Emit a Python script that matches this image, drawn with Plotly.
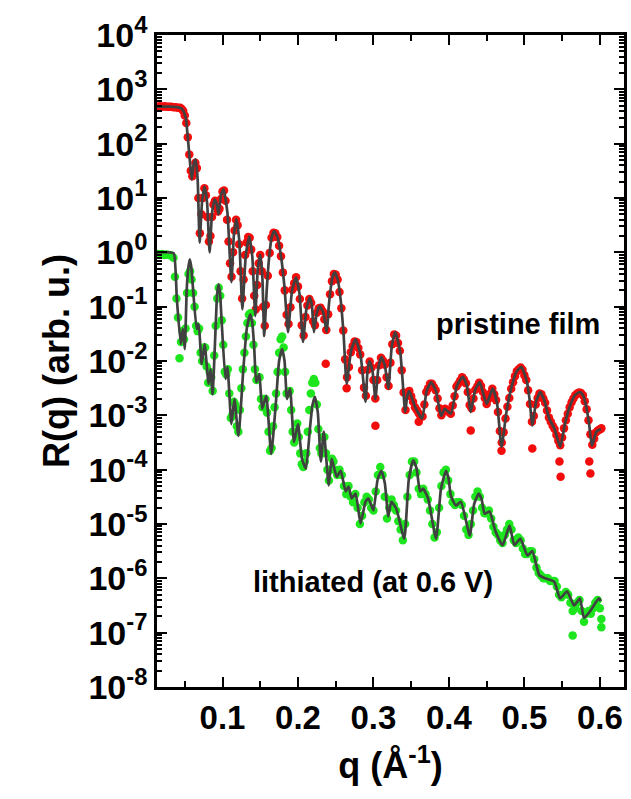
import plotly.graph_objects as go

# ---------------- data ----------------
# pristine film: fit curve (q in 1/A, log10 R)
pristine_fit_q = [0.0132, 0.0303, 0.0434, 0.0474, 0.0513, 0.0539, 0.0566, 0.0592, 0.0618, 0.0645,
                  0.0671, 0.0697, 0.0730, 0.0763, 0.0796, 0.0829, 0.0862, 0.0895, 0.0921, 0.0947,
                  0.0980, 0.1013, 0.1065, 0.1118, 0.1151, 0.1184, 0.1223, 0.1263, 0.1309, 0.1355,
                  0.1395, 0.1434, 0.1467, 0.1500, 0.1527, 0.1553, 0.1586, 0.1618, 0.1651, 0.1684,
                  0.1730, 0.1776, 0.1822, 0.1868, 0.1921, 0.1974, 0.2020, 0.2066, 0.2112, 0.2158,
                  0.2185, 0.2211, 0.2250, 0.2289, 0.2335, 0.2382, 0.2408, 0.2435, 0.2461, 0.2487,
                  0.2526, 0.2566, 0.2605, 0.2645, 0.2704, 0.2763, 0.2829, 0.2895, 0.2921, 0.2947,
                  0.2987, 0.3026, 0.3066, 0.3105, 0.3151, 0.3197, 0.3243, 0.3289, 0.3355, 0.3421,
                  0.3447, 0.3474, 0.3553, 0.3645, 0.3704, 0.3763, 0.3829, 0.3895, 0.3947, 0.4026,
                  0.4105, 0.4184, 0.4237, 0.4289, 0.4349, 0.4408, 0.4500, 0.4579, 0.4638, 0.4697,
                  0.4763, 0.4829, 0.4895, 0.4961, 0.5033, 0.5069, 0.5105, 0.5158, 0.5211, 0.5270,
                  0.5329, 0.5400, 0.5474, 0.5540, 0.5606, 0.5672, 0.5737, 0.5777, 0.5816, 0.5856,
                  0.5895, 0.5954, 0.6013]
pristine_fit_log10R = [2.68, 2.68, 2.66, 2.62, 2.48, 2.13, 1.71, 1.34, 1.62, 1.71,
                       1.33, 0.18, 0.95, 1.21, 0.91, 0.00, 0.73, 0.97, 0.90, 0.70,
                       1.05, 1.16, 0.73, -0.55, 0.32, 0.61, 0.20, -1.05, -0.05, 0.29,
                       -0.08, -1.17, -0.32, -0.04, -0.42, -1.54, -0.69, -0.09, 0.27, 0.39,
                       0.27, -0.08, -0.65, -1.47, -0.71, -0.46, -0.76, -1.65, -1.04, -0.83,
                       -0.99, -1.47, -1.11, -0.99, -1.11, -1.47, -0.99, -0.65, -0.44, -0.37,
                       -0.50, -0.88, -1.52, -2.42, -1.81, -1.60, -1.89, -2.75, -2.19, -2.00,
                       -2.18, -2.70, -2.12, -1.93, -2.08, -2.51, -1.73, -1.47, -1.84, -2.94,
                       -2.65, -2.55, -2.85, -3.06, -2.56, -2.39, -2.55, -3.01, -2.88, -2.97,
                       -2.46, -2.29, -2.45, -2.94, -2.53, -2.39, -2.79, -2.51, -2.78, -3.58,
                       -2.93, -2.48, -2.20, -2.11, -2.38, -2.71, -3.19, -2.73, -2.57, -2.75,
                       -3.06, -3.25, -3.58, -3.14, -2.82, -2.63, -2.57, -2.63, -2.82, -3.14,
                       -3.56, -3.30, -3.25]

# pristine film: measured points
pristine_q = [0.014, 0.017, 0.020, 0.023, 0.026, 0.029, 0.032, 0.035, 0.038, 0.041,
              0.044, 0.046, 0.048, 0.050, 0.052, 0.054, 0.056, 0.058, 0.060, 0.062,
              0.064, 0.066, 0.068, 0.070, 0.072, 0.074, 0.076, 0.078, 0.080, 0.082,
              0.084, 0.086, 0.088, 0.090, 0.092, 0.094, 0.096, 0.098, 0.100, 0.102,
              0.104, 0.106, 0.108, 0.110, 0.112, 0.114, 0.116, 0.118, 0.120, 0.122,
              0.124, 0.126, 0.128, 0.130, 0.132, 0.134, 0.136, 0.138, 0.140, 0.142,
              0.144, 0.146, 0.148, 0.150, 0.152, 0.154, 0.156,
              0.1575, 0.1600, 0.1625, 0.1650, 0.1675, 0.1700, 0.1725, 0.1750, 0.1775, 0.1800,
              0.1825, 0.1850, 0.1875, 0.1900, 0.1925, 0.1950, 0.1975, 0.2000, 0.2025, 0.2050,
              0.2075, 0.2100, 0.2125, 0.2150, 0.2175, 0.2200, 0.2225, 0.2250, 0.2275, 0.2300,
              0.2325, 0.2350, 0.2375, 0.2400, 0.2425, 0.2450, 0.2475, 0.2500, 0.2525, 0.2550,
              0.2575, 0.2600, 0.2625, 0.2650, 0.2675, 0.2700, 0.2725, 0.2750, 0.2775, 0.2800,
              0.2825, 0.2850, 0.2875, 0.2900, 0.2925, 0.2950, 0.2975, 0.3000, 0.3025, 0.3050,
              0.3075, 0.3100, 0.3125, 0.3150, 0.3175, 0.3200, 0.3225, 0.3250, 0.3275, 0.3300,
              0.3325, 0.3350, 0.3375, 0.3400, 0.3425, 0.3450, 0.3475, 0.3500, 0.3525, 0.3550,
              0.3575, 0.3600, 0.3625, 0.3650, 0.3675, 0.3700, 0.3725, 0.3750, 0.3775, 0.3800,
              0.3825, 0.3850, 0.3875, 0.3900, 0.3925, 0.3950, 0.3975, 0.4000, 0.4025, 0.4050,
              0.4075, 0.4100, 0.4125, 0.4150, 0.4175, 0.4200, 0.4225, 0.4250, 0.4275, 0.4300,
              0.4325, 0.4350, 0.4375, 0.4400, 0.4425, 0.4450, 0.4475, 0.4500, 0.4525, 0.4550,
              0.4575, 0.4600, 0.4625, 0.4650, 0.4675, 0.4700, 0.4725, 0.4750, 0.4775, 0.4800,
              0.4825, 0.4850, 0.4875, 0.4900, 0.4925, 0.4950, 0.4975, 0.5000, 0.5025, 0.5050,
              0.5075, 0.5100, 0.5125, 0.5150, 0.5175, 0.5200, 0.5225, 0.5250, 0.5275, 0.5300,
              0.5325, 0.5350, 0.5375, 0.5400, 0.5425, 0.5450, 0.5475, 0.5500, 0.5525, 0.5550,
              0.5575, 0.5600, 0.5625, 0.5650, 0.5675, 0.5700, 0.5725, 0.5750, 0.5775, 0.5800,
              0.5825, 0.5850, 0.5875, 0.5900, 0.5925, 0.5950, 0.5975, 0.6000, 0.6020,
              # scattered low points near minima
              0.2368, 0.2645, 0.3026, 0.3600, 0.4289, 0.4697, 0.5105, 0.5465, 0.5480, 0.5860,
              0.5875]
pristine_log10R = [2.68, 2.69, 2.68, 2.69, 2.68, 2.68, 2.68, 2.67, 2.67, 2.66,
                   2.66, 2.64, 2.60, 2.52, 2.38, 2.12, 1.80, 1.50, 1.40, 1.50,
                   1.65, 1.55, 1.00, 0.35, 0.70, 1.00, 1.18, 1.05, 0.65, 0.20,
                   0.30, 0.65, 0.88, 0.95, 0.85, 0.75, 0.80, 0.98, 1.12, 1.14,
                   0.95, 0.60, 0.20, -0.20, -0.45, 0.00, 0.40, 0.60, 0.50, 0.15,
                   -0.35, -0.85, -0.50, -0.05, 0.18, 0.28, 0.27, 0.05, -0.35, -0.80,
                   -1.05, -0.60, -0.20, -0.05, -0.35, -1.00, -1.35,
                   -0.97, -0.43, -0.01, 0.27, 0.36, 0.35, 0.28, 0.12, -0.07, -0.37,
                   -0.70, -1.15, -1.32, -1.01, -0.69, -0.57, -0.46, -0.63, -0.86, -1.34,
                   -1.53, -1.19, -0.98, -0.86, -0.93, -1.27, -1.34, -1.11, -1.03, -1.02,
                   -1.08, -1.23, -1.43, -1.14, -0.77, -0.53, -0.40, -0.41, -0.50, -0.73,
                   -1.03, -1.44, -1.97, -2.30, -2.11, -1.84, -1.73, -1.64, -1.65, -1.76,
                   -1.88, -2.17, -2.49, -2.64, -2.16, -2.01, -2.12, -2.35, -2.69, -2.35,
                   -2.08, -1.94, -1.99, -2.07, -2.30, -2.46, -2.03, -1.69, -1.51, -1.53,
                   -1.67, -1.81, -2.17, -2.58, -2.90, -2.64, -2.55, -2.65, -2.75, -2.85,
                   -2.90, -2.96, -3.01, -3.02, -2.80, -2.57, -2.50, -2.42, -2.42, -2.48,
                   -2.54, -2.69, -2.87, -3.00, -2.93, -2.88, -2.91, -2.94, -2.97, -2.82,
                   -2.65, -2.47, -2.42, -2.36, -2.30, -2.34, -2.41, -2.57, -2.81, -2.87,
                   -2.69, -2.53, -2.47, -2.40, -2.46, -2.57, -2.68, -2.79, -2.70, -2.60,
                   -2.51, -2.61, -2.72, -2.94, -3.29, -3.50, -3.31, -3.06, -2.84, -2.68,
                   -2.51, -2.39, -2.28, -2.19, -2.15, -2.12, -2.16, -2.26, -2.35, -2.54,
                   -2.79, -3.12, -3.01, -2.80, -2.68, -2.60, -2.61, -2.69, -2.77, -2.91,
                   -3.04, -3.12, -3.19, -3.25, -3.36, -3.47, -3.55, -3.41, -3.24, -3.09,
                   -2.97, -2.85, -2.76, -2.69, -2.63, -2.60, -2.58, -2.59, -2.63, -2.74,
                   -2.89, -3.09, -3.35, -3.54, -3.43, -3.31, -3.28, -3.26, -3.24,
                   -2.05, -2.50, -3.19, -3.12, -3.28, -3.65, -3.61, -3.85, -4.13, -3.85,
                   -4.07]

# lithiated film: fit curve
lithiated_fit_q = [0.0132, 0.0303, 0.0355, 0.0395, 0.0447, 0.0474, 0.0500, 0.0526, 0.0546, 0.0566,
                   0.0586, 0.0605, 0.0658, 0.0684, 0.0724, 0.0763, 0.0816, 0.0842, 0.0868, 0.0908,
                   0.0928, 0.0947, 0.0967, 0.0987, 0.1039, 0.1066, 0.1118, 0.1158, 0.1211, 0.1276,
                   0.1322, 0.1368, 0.1395, 0.1421, 0.1447, 0.1487, 0.1526, 0.1579, 0.1645, 0.1711,
                   0.1750, 0.1790, 0.1822, 0.1855, 0.1895, 0.1947, 0.2000, 0.2053, 0.2105, 0.2158,
                   0.2191, 0.2224, 0.2263, 0.2303, 0.2342, 0.2408, 0.2447, 0.2513, 0.2566, 0.2632,
                   0.2671, 0.2711, 0.2763, 0.2829, 0.2895, 0.2934, 0.3000, 0.3053, 0.3105, 0.3151,
                   0.3197, 0.3237, 0.3303, 0.3408, 0.3467, 0.3526, 0.3572, 0.3618, 0.3658, 0.3724,
                   0.3829, 0.3895, 0.3961, 0.3994, 0.4026, 0.4092, 0.4158, 0.4276, 0.4335, 0.4395,
                   0.4434, 0.4474, 0.4539, 0.4618, 0.4711, 0.4803, 0.4868, 0.4947, 0.5039, 0.5105,
                   0.5197, 0.5276, 0.5395, 0.5474, 0.5566, 0.5658, 0.5737, 0.5789, 0.5868, 0.5987,
                   0.6013]
lithiated_fit_log10R = [0.00, 0.00, -0.02, -0.86, -1.69, -1.41, -1.78, -0.68, -0.30, -0.13,
                        -0.27, -0.59, -1.41, -1.32, -2.06, -1.69, -2.42, -2.15, -2.61, -1.41,
                        -0.78, -0.59, -0.75, -1.23, -2.33, -2.11, -3.16, -2.70, -3.38, -2.15,
                        -1.40, -1.14, -1.30, -1.78, -2.39, -2.24, -2.88, -2.64, -3.71, -2.70,
                        -2.00, -1.78, -2.00, -2.70, -2.51, -3.49, -3.16, -3.80, -3.98, -3.25,
                        -2.82, -2.66, -2.95, -3.85, -3.30, -4.29, -3.80, -4.13, -4.02, -4.40,
                        -4.31, -4.53, -4.44, -4.99, -4.59, -4.53, -4.75, -4.20, -4.02, -4.25,
                        -4.86, -4.59, -4.72, -5.27, -4.20, -3.83, -3.98, -4.40, -4.35, -4.53,
                        -5.27, -4.35, -4.02, -4.15, -4.48, -4.66, -4.59, -5.21, -4.63, -4.44,
                        -4.55, -4.81, -4.77, -5.14, -5.39, -5.03, -5.39, -5.27, -5.58, -5.50,
                        -5.94, -6.00, -6.06, -6.37, -6.24, -6.50, -6.37, -6.73, -6.61, -6.37,
                        -6.42]

# lithiated film: measured points
lithiated_q = [0.014, 0.017, 0.020, 0.023, 0.026, 0.029, 0.032, 0.035, 0.037, 0.039, 0.041, 0.043,
               0.045, 0.047, 0.049, 0.051, 0.053, 0.055, 0.057, 0.059, 0.061, 0.063, 0.065, 0.067,
               0.069, 0.071, 0.073, 0.075, 0.077, 0.079, 0.081, 0.083, 0.085, 0.087, 0.089, 0.091,
               0.093, 0.095, 0.097, 0.099, 0.101, 0.103, 0.105, 0.107, 0.109, 0.111, 0.113, 0.115,
               0.117, 0.119, 0.121, 0.123, 0.125, 0.127, 0.129, 0.131, 0.133, 0.135, 0.137, 0.139,
               0.141, 0.143, 0.145, 0.147, 0.149, 0.151, 0.153, 0.155, 0.157, 0.159, 0.161, 0.163,
               0.165, 0.167, 0.169, 0.171, 0.173, 0.175, 0.177, 0.179, 0.181, 0.183, 0.185, 0.187,
               0.189, 0.191, 0.193, 0.195, 0.197, 0.199, 0.201, 0.203, 0.205, 0.207, 0.209, 0.211,
               0.213, 0.215, 0.217, 0.219, 0.221, 0.223, 0.225, 0.227, 0.229, 0.231, 0.233, 0.235,
               0.237, 0.239, 0.241, 0.243, 0.245, 0.247, 0.249, 0.252, 0.255, 0.258, 0.261, 0.264,
               0.267, 0.270, 0.273, 0.276, 0.279, 0.282, 0.285, 0.288, 0.291, 0.294, 0.297, 0.300,
               0.303, 0.306, 0.309, 0.312, 0.315, 0.318, 0.321, 0.324, 0.327, 0.330, 0.333, 0.336,
               0.339, 0.342, 0.345, 0.348, 0.351, 0.354, 0.357, 0.360, 0.363, 0.366, 0.369, 0.372,
               0.375, 0.378, 0.381, 0.384, 0.387, 0.390, 0.393, 0.396, 0.399, 0.402, 0.405, 0.408,
               0.411, 0.414, 0.417, 0.420, 0.423, 0.426, 0.429, 0.432, 0.435, 0.438, 0.441, 0.444,
               0.447, 0.450, 0.453, 0.456, 0.459, 0.462, 0.465, 0.468, 0.471, 0.474, 0.477, 0.480,
               0.483, 0.486, 0.489, 0.492, 0.495, 0.498, 0.501, 0.504, 0.507, 0.510, 0.513, 0.516,
               0.519, 0.522, 0.525, 0.528, 0.531, 0.534, 0.537, 0.540, 0.543, 0.546, 0.549, 0.552,
               0.555, 0.558, 0.561, 0.564, 0.564, 0.567, 0.570, 0.573, 0.576, 0.579, 0.582, 0.585,
               0.588, 0.591, 0.594, 0.597, 0.600, 0.602, 0.602]
lithiated_log10R = [-0.03, -0.04, -0.03, -0.05, -0.04, -0.05, -0.06, -0.10, -0.45, -0.85, -1.20, -1.95,
                    -1.65, -1.45, -1.60, -1.40, -0.75, -0.40, -0.35, -0.50, -0.75, -1.00, -1.35, -1.45,
                    -1.40, -1.85, -2.00, -1.75, -1.75, -2.10, -2.40, -2.20, -2.30, -2.55, -1.90, -1.35,
                    -0.85, -0.65, -0.80, -1.25, -1.70, -2.20, -2.25, -2.15, -2.60, -3.05, -3.00, -2.75,
                    -2.80, -3.20, -3.30, -2.90, -2.50, -2.15, -1.85, -1.55, -1.30, -1.15, -1.12, -1.30,
                    -1.70, -2.15, -2.35, -2.30, -2.30, -2.70, -2.85, -2.70, -2.70, -2.95, -3.30, -3.65,
                    -3.60, -3.20, -2.85, -2.60, -2.20, -1.85, -1.60, -1.55, -1.75, -2.20, -2.60, -2.60,
                    -2.55, -2.90, -3.30, -3.50, -3.30, -3.15, -3.40, -3.70, -3.90, -3.95, -3.85, -3.70,
                    -3.30, -2.90, -2.60, -2.40, -2.33, -2.40, -2.80, -3.25, -3.60, -3.70, -3.40, -3.40,
                    -3.70, -4.00, -4.20, -4.00, -3.80, -3.85, -4.00, -4.10, -4.00, -4.10, -4.30, -4.45,
                    -4.30, -4.50, -4.60, -4.45, -4.70, -5.00, -4.85, -4.60, -4.50, -4.55, -4.70, -4.75,
                    -4.40, -4.10, -3.95, -4.10, -4.50, -4.90, -4.70, -4.55, -4.65, -4.75, -4.95, -5.10,
                    -5.30, -5.00, -4.50, -4.10, -3.85, -3.85, -4.05, -4.35, -4.45, -4.35, -4.45, -4.55,
                    -4.75, -5.00, -5.25, -5.15, -4.70, -4.30, -4.05, -4.00, -4.20, -4.45, -4.60, -4.65,
                    -4.60, -4.60, -4.65, -4.85, -5.10, -5.20, -5.00, -4.75, -4.50, -4.40, -4.50, -4.70,
                    -4.80, -4.80, -4.75, -4.90, -5.05, -5.15, -5.20, -5.30, -5.35, -5.20, -5.10, -5.00,
                    -5.10, -5.30, -5.35, -5.25, -5.30, -5.45, -5.55, -5.55, -5.50, -5.50, -5.65, -5.80,
                    -5.90, -5.95, -6.00, -6.00, -6.00, -6.05, -6.05, -6.05, -6.15, -6.30, -6.35, -6.30,
                    -6.25, -6.30, -6.45, -6.60, -7.05, -6.55, -6.45, -6.40, -6.60, -6.80, -6.65, -6.60,
                    -6.65, -6.55, -6.45, -6.40, -6.55, -6.75, -6.90]

# axis ticks
y_exponents = list(range(-8, 5))
x_ticks = [0.1, 0.2, 0.3, 0.4, 0.5, 0.6]
x_minor_ticks = [0.05, 0.15, 0.25, 0.35, 0.45, 0.55]

for a, b in [(pristine_fit_q, pristine_fit_log10R), (pristine_q, pristine_log10R),
             (lithiated_fit_q, lithiated_fit_log10R), (lithiated_q, lithiated_log10R)]:
    if len(a) != len(b):
        raise ValueError(f"length mismatch {len(a)} vs {len(b)}")


def to_R(vals):
    return [10 ** v for v in vals]


FONT = "Liberation Sans, Arial, sans-serif"
RED = "#f20c0c"
GREEN = "#1ee61e"
FIT = "#404040"

fig = go.Figure()
fig.add_trace(go.Scatter(x=pristine_q, y=to_R(pristine_log10R), mode="markers",
                         marker=dict(color=RED, size=8.5), showlegend=False))
fig.add_trace(go.Scatter(x=lithiated_q, y=to_R(lithiated_log10R), mode="markers",
                         marker=dict(color=GREEN, size=8.5), showlegend=False))
fig.add_trace(go.Scatter(x=pristine_fit_q, y=to_R(pristine_fit_log10R), mode="lines",
                         line=dict(color=FIT, width=2.7, shape="spline", smoothing=0.5),
                         showlegend=False))
fig.add_trace(go.Scatter(x=lithiated_fit_q, y=to_R(lithiated_fit_log10R), mode="lines",
                         line=dict(color=FIT, width=2.7, shape="spline", smoothing=0.5),
                         showlegend=False))

minor_y = [m * 10.0 ** e for e in range(-8, 4) for m in range(2, 10)]

fig.update_layout(
    width=631, height=799,
    margin=dict(l=157, r=4, t=35, b=112),
    paper_bgcolor="white", plot_bgcolor="white",
    font=dict(family=FONT, color="black"),
    xaxis=dict(
        range=[0.0132, 0.632], showgrid=False, zeroline=False,
        showline=True, linecolor="black", linewidth=2.5, mirror="allticks",
        ticks="inside", ticklen=10, tickwidth=2, tickcolor="black",
        tickvals=x_ticks, ticktext=[f"{v:.1f}" for v in x_ticks],
        tickfont=dict(family=FONT, size=33, weight="bold"),
        minor=dict(ticks="inside", ticklen=6, tickwidth=2, tickcolor="black",
                   tickvals=x_minor_ticks),
        title=dict(text="q (Å<sup>-1</sup>)", font=dict(family=FONT, size=36, weight="bold"),
                   standoff=18),
    ),
    yaxis=dict(
        type="log", range=[-8, 4], showgrid=False, zeroline=False,
        showline=True, linecolor="black", linewidth=2.5, mirror="allticks",
        ticks="inside", ticklen=10, tickwidth=2, tickcolor="black",
        tickvals=[10.0 ** e for e in y_exponents],
        ticktext=[f"10<sup>{e}</sup>" for e in y_exponents],
        tickfont=dict(family=FONT, size=34, weight="bold"),
        minor=dict(ticks="inside", ticklen=5, tickwidth=1.5, tickcolor="black",
                   tickvals=minor_y),
        title=dict(text="R(q) (arb. u.)", font=dict(family=FONT, size=36, weight="bold"),
                   standoff=8),
    ),
    annotations=[
        dict(x=0.492, y=-1.32, xref="x", yref="y", text="pristine film", showarrow=False,
             font=dict(family=FONT, size=29, weight="bold", color="black")),
        dict(x=0.30, y=-6.06, xref="x", yref="y", text="lithiated (at 0.6 V)", showarrow=False,
             font=dict(family=FONT, size=29, weight="bold", color="black")),
    ],
)

fig.write_html("out.html")
